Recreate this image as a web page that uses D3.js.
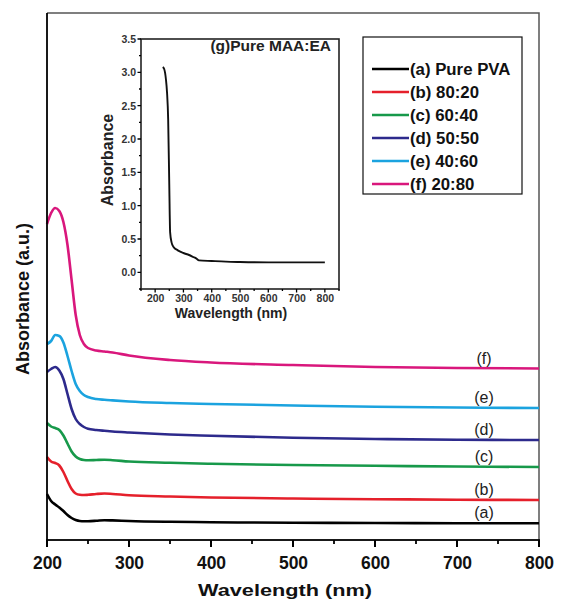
<!DOCTYPE html>
<html>
<head>
<meta charset="utf-8">
<script src="https://cdn.jsdelivr.net/npm/d3@7"></script>
<style>
  html, body { margin: 0; padding: 0; background: #fff; }
  svg { display: block; font-family: "Liberation Sans", Arial, sans-serif; }
</style>
</head>
<body>
<svg id="chart" width="562" height="599"></svg>
<script>
// UV-Vis absorbance spectra of PVA / MAA:EA blends (offset, arbitrary units)
const wavelengths = [200, 205, 210, 215, 220, 225, 230, 235, 240, 245, 250, 260, 270, 280, 300, 350, 400, 500, 600, 700, 800];

const seriesNames = ["(a) Pure PVA", "(b) 80:20", "(c) 60:40", "(d) 50:50", "(e) 40:60", "(f) 20:80"];
const seriesTags = ["(a)", "(b)", "(c)", "(d)", "(e)", "(f)"];
const seriesColors = ["#000000", "#e5202b", "#17994a", "#2d2a8c", "#1ba3df", "#d9177c"];

const absA = [0.46, 0.39, 0.355, 0.325, 0.29, 0.25, 0.22, 0.20, 0.19, 0.188, 0.188, 0.192, 0.198, 0.196, 0.19, 0.182, 0.178, 0.172, 0.17, 0.168, 0.167];
const absB = [0.83, 0.785, 0.77, 0.745, 0.68, 0.59, 0.51, 0.465, 0.452, 0.45, 0.452, 0.46, 0.465, 0.46, 0.448, 0.435, 0.425, 0.415, 0.408, 0.403, 0.40];
const absC = [1.17, 1.135, 1.12, 1.10, 1.045, 0.965, 0.885, 0.835, 0.81, 0.80, 0.798, 0.80, 0.802, 0.798, 0.785, 0.772, 0.762, 0.75, 0.742, 0.735, 0.73];
const absD = [1.68, 1.71, 1.73, 1.695, 1.61, 1.46, 1.31, 1.21, 1.16, 1.13, 1.112, 1.10, 1.092, 1.085, 1.075, 1.055, 1.042, 1.023, 1.01, 1.002, 1.0];
const absE = [1.96, 1.99, 2.05, 2.04, 1.975, 1.84, 1.69, 1.56, 1.49, 1.45, 1.43, 1.41, 1.402, 1.396, 1.385, 1.37, 1.36, 1.345, 1.333, 1.325, 1.32];
const absF = [3.16, 3.27, 3.32, 3.29, 3.18, 2.95, 2.60, 2.25, 2.05, 1.96, 1.92, 1.895, 1.885, 1.875, 1.845, 1.80, 1.775, 1.75, 1.73, 1.72, 1.715];
const seriesValues = [absA, absB, absC, absD, absE, absF];

const xTicks = [200, 300, 400, 500, 600, 700, 800];
const xMinorTicks = [250, 350, 450, 550, 650, 750];

// inset: pure MAA:EA copolymer
const insetWavelengths = [227, 232, 238, 242, 246, 250, 253, 258, 265, 280, 300, 320, 335, 345, 355, 400, 450, 500, 600, 700, 800];
const insetAbs = [3.08, 3.05, 2.90, 2.70, 2.30, 1.30, 0.60, 0.45, 0.38, 0.33, 0.29, 0.26, 0.23, 0.21, 0.18, 0.17, 0.16, 0.155, 0.15, 0.15, 0.15];
const insetXTicks = [200, 300, 400, 500, 600, 700, 800];
const insetXMinor = [150, 250, 350, 450, 550, 650, 750, 850];
const insetYTicks = [0.0, 0.5, 1.0, 1.5, 2.0, 2.5, 3.0, 3.5];
const insetYMinor = [-0.25, 0.25, 0.75, 1.25, 1.75, 2.25, 2.75, 3.25];

const svg = d3.select("#chart");

// ---------- main plot ----------
const M = { left: 47, right: 539, top: 13, bottom: 540 };
const x = d3.scaleLinear().domain([200, 800]).range([M.left, M.right]);
const y = d3.scaleLinear().domain([0, 5.27]).range([M.bottom, M.top]);

// frame (top & right)
svg.append("path")
  .attr("d", `M${M.left},${M.top}H${M.right}V${M.bottom}`)
  .attr("fill", "none").attr("stroke", "#555").attr("stroke-width", 1.5);

const line = d3.line()
  .x((d, i) => x(wavelengths[i]))
  .y(d => y(d))
  .curve(d3.curveMonotoneX);

seriesValues.forEach((vals, k) => {
  svg.append("path")
    .datum(vals)
    .attr("d", line)
    .attr("fill", "none")
    .attr("stroke", seriesColors[k])
    .attr("stroke-width", 2.6)
    .attr("stroke-linejoin", "round");
});

// curve tags near the right end
seriesValues.forEach((vals, k) => {
  svg.append("text")
    .attr("x", x(733))
    .attr("y", y(vals[vals.length - 1]) - 5)
    .attr("text-anchor", "middle")
    .attr("font-size", 16)
    .attr("fill", "#222")
    .text(seriesTags[k]);
});

// bottom axis labels from d3.axisBottom
const xAxis = svg.append("g").attr("transform", `translate(0,${M.bottom})`);
xAxis.call(d3.axisBottom(x).tickValues(xTicks).tickFormat(d3.format("d")).tickSize(0).tickPadding(17));
xAxis.select(".domain").remove();
xAxis.selectAll(".tick text").attr("font-size", 17.5).attr("font-weight", "bold").attr("fill", "#111")
  .attr("font-family", "Liberation Sans, Arial, sans-serif");

// axis lines
svg.append("rect")
  .attr("x", M.left - 0.9).attr("y", M.bottom - 0.9)
  .attr("width", M.right - M.left + 1.8).attr("height", 1.8)
  .attr("fill", "#000");
svg.append("rect")
  .attr("x", M.left - 0.9).attr("y", M.top)
  .attr("width", 1.8).attr("height", M.bottom - M.top)
  .attr("fill", "#000");

svg.append("text")
  .attr("x", 285)
  .attr("y", 596)
  .attr("text-anchor", "middle")
  .attr("font-size", 17).attr("font-weight", "bold").attr("fill", "#111")
  .attr("textLength", 174).attr("lengthAdjust", "spacingAndGlyphs")
  .text("Wavelength (nm)");

svg.append("text")
  .attr("transform", "translate(29,299) rotate(-90)")
  .attr("text-anchor", "middle")
  .attr("font-size", 18).attr("font-weight", "bold").attr("fill", "#111")
  .text("Absorbance (a.u.)");

// ---------- legend ----------
const legend = svg.append("g");
legend.append("rect")
  .attr("x", 363).attr("y", 37).attr("width", 159).attr("height", 157)
  .attr("fill", "#fff").attr("stroke", "#111").attr("stroke-width", 1.2);
seriesNames.forEach((name, k) => {
  const yy = 69 + k * 23;
  legend.append("line")
    .attr("x1", 372).attr("x2", 409).attr("y1", yy).attr("y2", yy)
    .attr("stroke", seriesColors[k]).attr("stroke-width", 2.6);
  legend.append("text")
    .attr("x", 410).attr("y", yy + 6)
    .attr("font-size", 16.8).attr("font-weight", "bold").attr("fill", "#111")
    .text(name);
});

// ---------- inset ----------
const I = { left: 141, right: 339, top: 39, bottom: 289 };
const xi = d3.scaleLinear().domain([150, 850]).range([I.left, I.right]);
const yi = d3.scaleLinear().domain([-0.25, 3.5]).range([I.bottom, I.top]);

const inset = svg.append("g");
inset.append("rect")
  .attr("x", I.left).attr("y", I.top)
  .attr("width", I.right - I.left).attr("height", I.bottom - I.top)
  .attr("fill", "#fff").attr("stroke", "#222").attr("stroke-width", 1.6);

const ixAxis = inset.append("g").attr("transform", `translate(0,${I.bottom})`);
ixAxis.call(d3.axisBottom(xi).tickValues(insetXTicks).tickFormat(d3.format("d")).tickSize(0).tickPadding(6));
ixAxis.select(".domain").remove();
ixAxis.selectAll(".tick text").attr("font-size", 10.5).attr("font-weight", "bold").attr("fill", "#333")
  .attr("font-family", "Liberation Sans, Arial, sans-serif");

const iyAxis = inset.append("g").attr("transform", `translate(${I.left},0)`);
iyAxis.call(d3.axisLeft(yi).tickValues(insetYTicks).tickFormat(d3.format(".1f")).tickSize(0).tickPadding(5));
iyAxis.select(".domain").remove();
iyAxis.selectAll(".tick text").attr("font-size", 10.5).attr("font-weight", "bold").attr("fill", "#333")
  .attr("font-family", "Liberation Sans, Arial, sans-serif");

const insetTickPath =
  insetXTicks.map(d => `M${xi(d)},${I.bottom}V${I.bottom + 3.5}`).join("") +
  insetXMinor.map(d => `M${xi(d)},${I.bottom}V${I.bottom + 2}`).join("") +
  insetYTicks.map(d => `M${I.left},${yi(d)}H${I.left - 3.5}`).join("") +
  insetYMinor.map(d => `M${I.left},${yi(d)}H${I.left - 2}`).join("");
inset.append("path")
  .attr("d", insetTickPath)
  .attr("fill", "none").attr("stroke", "#000").attr("stroke-width", 1.3);

const insetLine = d3.line()
  .x((d, i) => xi(insetWavelengths[i]))
  .y(d => yi(d))
  .curve(d3.curveMonotoneX);
inset.append("path")
  .datum(insetAbs)
  .attr("d", insetLine)
  .attr("fill", "none").attr("stroke", "#111").attr("stroke-width", 1.9);

inset.append("text")
  .attr("x", 331).attr("y", 51)
  .attr("text-anchor", "end")
  .attr("font-size", 15.5).attr("font-weight", "bold").attr("fill", "#222")
  .text("(g)Pure MAA:EA");

inset.append("text")
  .attr("x", 231).attr("y", 318)
  .attr("text-anchor", "middle")
  .attr("font-size", 14).attr("font-weight", "bold").attr("fill", "#222")
  .text("Wavelength (nm)");

inset.append("text")
  .attr("transform", `translate(113,${(I.top + I.bottom) / 2 - 4}) rotate(-90)`)
  .attr("text-anchor", "middle")
  .attr("font-size", 16).attr("font-weight", "bold").attr("fill", "#222")
  .text("Absorbance");

// outward tick marks on the main wavelength axis, drawn on top of everything
const mainTicks = svg.append("g").attr("class", "main-ticks");
mainTicks.selectAll("line.major")
  .data(xTicks)
  .enter().append("line")
  .attr("class", "major")
  .attr("x1", d => x(d)).attr("x2", d => x(d))
  .attr("y1", M.bottom).attr("y2", M.bottom + 7)
  .attr("stroke", "#000").attr("stroke-width", 2);
mainTicks.selectAll("line.minor")
  .data(xMinorTicks)
  .enter().append("line")
  .attr("class", "minor")
  .attr("x1", d => x(d)).attr("x2", d => x(d))
  .attr("y1", M.bottom).attr("y2", M.bottom + 4)
  .attr("stroke", "#000").attr("stroke-width", 1.8);
</script>
</body>
</html>
